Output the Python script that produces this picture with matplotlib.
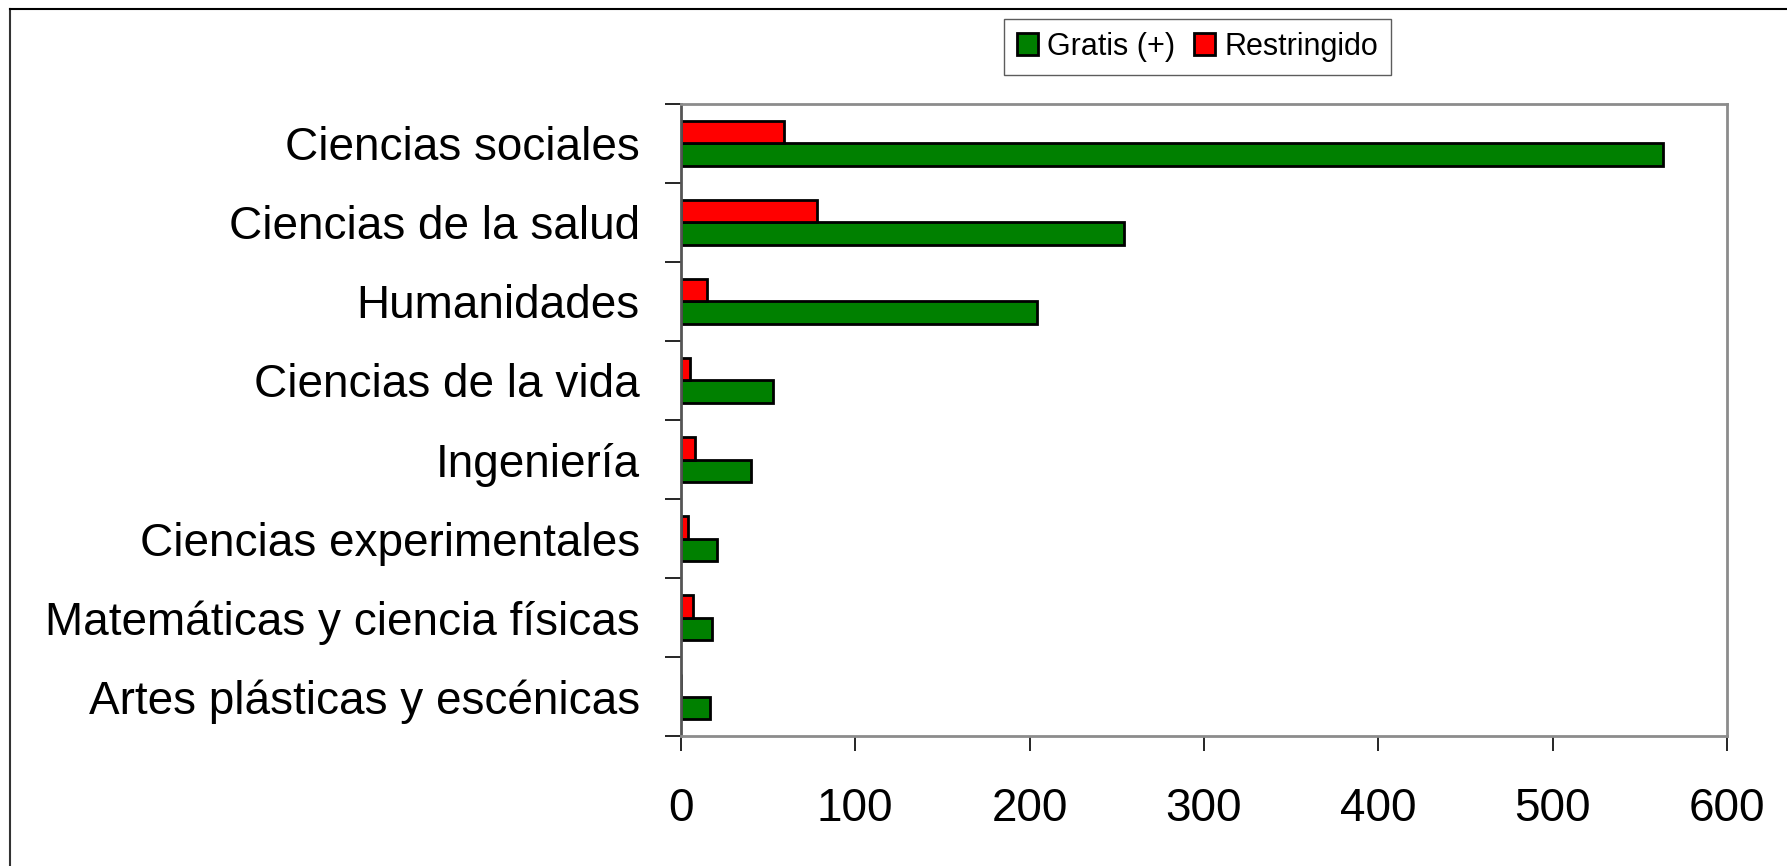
import matplotlib
matplotlib.use("Agg")
import matplotlib.pyplot as plt
import numpy as np
from matplotlib.lines import Line2D

plt.rcParams['font.family'] = ['Liberation Sans', 'DejaVu Sans']

# Datos
categorias = ["Ciencias sociales", "Ciencias de la salud", "Humanidades",
              "Ciencias de la vida", "Ingeniería", "Ciencias experimentales",
              "Matemáticas y ciencia físicas", "Artes plásticas y escénicas"]
gratis = [563, 254, 204, 53, 40, 21, 18, 17]
restringido = [59, 78, 15, 5, 8, 4, 7, 0]
ticks_x = [0, 100, 200, 300, 400, 500, 600]

fig = plt.figure(figsize=(17.87, 8.66), dpi=100)
ax = fig.add_axes([0.381, 0.150, 0.5855, 0.730])

y = np.arange(len(categorias))
h = 0.28
b1 = ax.barh(y + h / 2, gratis, height=h, color="#008000", edgecolor="black",
             linewidth=2, label="Gratis (+)")
b2 = ax.barh(y - h / 2, restringido, height=h, color="#ff0000", edgecolor="black",
             linewidth=2, label="Restringido")

ax.set_ylim(len(categorias) - 0.5, -0.5)
ax.set_xlim(0, 600)
ax.set_xticks(ticks_x)
ax.set_xticklabels([str(t) for t in ticks_x], fontsize=33)

# etiquetas centradas, marcas en los limites de cada categoria
ax.set_yticks(np.arange(-0.5, len(categorias), 1.0))
ax.set_yticklabels([])
ax.set_yticks(y, minor=True)
ax.set_yticklabels(categorias, minor=True, fontsize=33)
ax.tick_params(axis="y", which="minor", length=0, pad=29.5)
ax.tick_params(axis="y", which="major", length=11.5, width=1.2, direction="out")
ax.tick_params(axis="x", length=11, width=1.2, direction="out", pad=26)

for s in ax.spines.values():
    s.set_color("#8c8c8c")
    s.set_linewidth(2)
ax.spines["left"].set_color("#555555")

fig.legend(handles=[b1, b2], loc="center", bbox_to_anchor=(0.67, 0.946),
           ncol=2, fontsize=22, frameon=True, fancybox=False,
           edgecolor="#333333", handlelength=0.7, handleheight=0.7,
           handletextpad=0.3, columnspacing=0.6, borderpad=0.42)

# marco exterior
fig.add_artist(Line2D([10 / 1787, 10 / 1787], [0, 1 - 9 / 866], color="#333333",
                      lw=1.5, transform=fig.transFigure))
fig.add_artist(Line2D([10 / 1787, 1], [1 - 9 / 866, 1 - 9 / 866], color="black",
                      lw=1.5, transform=fig.transFigure))

fig.savefig("out.png", dpi=100)
